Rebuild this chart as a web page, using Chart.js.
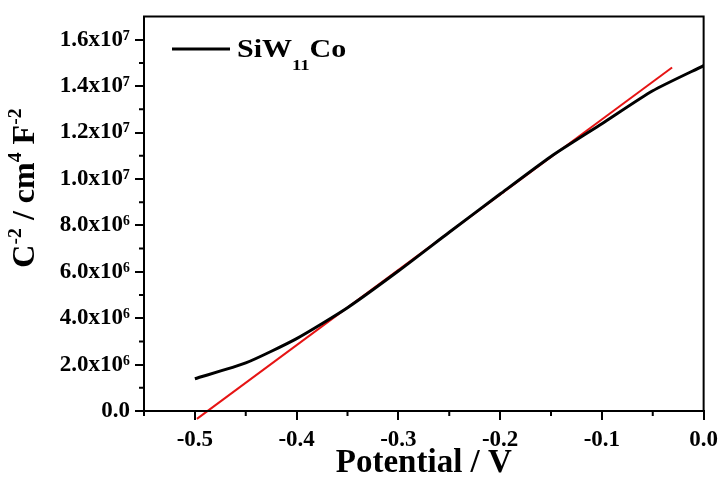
<!DOCTYPE html>
<html lang="en">

<head>
  <meta charset="UTF-8" />
  <title>Mott-Schottky SiW11Co</title>
  <script src="https://cdn.jsdelivr.net/npm/chart.js"></script>
  <style>
    body {
      margin: 0;
      background: #fff;
    }
  </style>
</head>

<body>
  <canvas id="myChart" width="724" height="477"></canvas>
  <script>
    // 資料
    const potential = [-0.5, -0.45, -0.4, -0.35, -0.3, -0.25, -0.2, -0.15, -0.1, -0.05, 0.0];
    const invCapSq = [1.39e6, 2.07e6, 3.12e6, 4.45e6, 6.03e6, 7.70e6, 9.35e6, 10.97e6, 12.38e6, 13.80e6, 14.88e6];

    // linear fit (red line)
    const fitX = [-0.498, -0.031];
    const fitY = [-0.34e6, 14.80e6];

    const xTicks = [-0.5, -0.4, -0.3, -0.2, -0.1, 0.0];
    const xTickLabels = ["-0.5", "-0.4", "-0.3", "-0.2", "-0.1", "0.0"];
    const xMinor = [-0.55, -0.45, -0.35, -0.25, -0.15, -0.05];
    const yTicks = [0, 2e6, 4e6, 6e6, 8e6, 1e7, 1.2e7, 1.4e7, 1.6e7];
    const yTickLabels = ["0.0", "2.0x10⁶", "4.0x10⁶", "6.0x10⁶", "8.0x10⁶",
      "1.0x10⁷", "1.2x10⁷", "1.4x10⁷", "1.6x10⁷"];
    const yMinor = [1e6, 3e6, 5e6, 7e6, 9e6, 1.1e7, 1.3e7, 1.5e7];

    const serif = "'Liberation Serif', 'Times New Roman', serif";

    // draw text pieces with super/subscripts
    function richText(ctx, parts, x, y, size) {
      let cx = x;
      parts.forEach((p) => {
        const s = p.sup || p.sub ? size * 0.62 : size;
        ctx.font = "bold " + s + "px " + serif;
        let dy = 0;
        if (p.sup) dy = -size * 0.42;
        if (p.sub) dy = size * 0.5;
        ctx.fillText(p.t, cx, y + dy);
        cx += ctx.measureText(p.t).width;
      });
      return cx - x;
    }
    function richWidth(ctx, parts, size) {
      let w = 0;
      parts.forEach((p) => {
        const s = p.sup || p.sub ? size * 0.62 : size;
        ctx.font = "bold " + s + "px " + serif;
        w += ctx.measureText(p.t).width;
      });
      return w;
    }

    // frame, minor ticks, y title, legend
    const extras = {
      id: "extras",
      afterDraw(chart) {
        const ctx = chart.ctx;
        const a = chart.chartArea;
        const xs = chart.scales.x;
        const ys = chart.scales.y;
        ctx.save();
        ctx.strokeStyle = "#000";
        ctx.lineWidth = 2;
        ctx.strokeRect(a.left, a.top, a.right - a.left, a.bottom - a.top);

        ctx.beginPath();
        xMinor.forEach((v) => {
          const px = xs.getPixelForValue(v);
          ctx.moveTo(px, a.bottom);
          ctx.lineTo(px, a.bottom + 5);
        });
        yMinor.forEach((v) => {
          const py = ys.getPixelForValue(v);
          ctx.moveTo(a.left - 5, py);
          ctx.lineTo(a.left, py);
        });
        ctx.stroke();

        // y axis title
        ctx.fillStyle = "#000";
        ctx.textBaseline = "alphabetic";
        ctx.textAlign = "left";
        const yTitle = [
          { t: "C" }, { t: "-2", sup: true }, { t: " / cm" }, { t: "4", sup: true },
          { t: " F" }, { t: "-2", sup: true },
        ];
        const ySize = 32;
        const w = richWidth(ctx, yTitle, ySize);
        ctx.translate(34, 188);
        ctx.rotate(-Math.PI / 2);
        richText(ctx, yTitle, -w / 2, 0, ySize);
        ctx.restore();

        // legend
        ctx.save();
        ctx.strokeStyle = "#000";
        ctx.lineWidth = 3;
        ctx.beginPath();
        ctx.moveTo(172, 49);
        ctx.lineTo(230, 49);
        ctx.stroke();
        ctx.fillStyle = "#000";
        ctx.textBaseline = "alphabetic";
        ctx.translate(237, 57);
        ctx.scale(1.2, 1);
        richText(ctx, [{ t: "SiW" }, { t: "11", sub: true }, { t: "Co" }], 0, 0, 25);
        ctx.restore();
      },
    };

    const ctx01 = document.getElementById("myChart");
    const mychart = new Chart(ctx01, {
      type: "scatter",
      data: {
        datasets: [
          {
            label: "SiW11Co",
            data: potential.map((v, i) => ({ x: v, y: invCapSq[i] })),
            showLine: true,
            borderColor: "#000",
            borderWidth: 3,
            pointRadius: 0,
            tension: 0.2,
          },
          {
            label: "fit",
            data: fitX.map((v, i) => ({ x: v, y: fitY[i] })),
            showLine: true,
            borderColor: "rgb(230, 20, 20)",
            borderWidth: 2,
            pointRadius: 0,
            clip: false,
          },
        ],
      },
      options: {
        responsive: false,
        animation: false,
        layout: {
          padding: { top: 15, right: 17, left: 0, bottom: 0 },
        },
        plugins: {
          legend: { display: false },
          tooltip: { enabled: false },
        },
        scales: {
          x: {
            type: "linear",
            min: -0.55,
            max: 0,
            afterFit: (scale) => {
              scale.height = 66;
            },
            afterBuildTicks: (scale) => {
              scale.ticks = xTicks.map((v) => ({ value: v }));
            },
            ticks: {
              color: "#000",
              padding: 6,
              maxRotation: 0,
              autoSkip: false,
              font: { family: serif, size: 23, weight: "bold" },
              callback: (v, i) => xTickLabels[i],
            },
            grid: {
              drawOnChartArea: false,
              color: "#000",
              lineWidth: 2,
              tickLength: 9,
            },
            border: { color: "#000", width: 2 },
            title: {
              display: true,
              text: "Potential / V",
              color: "#000",
              padding: 0,
              font: { family: serif, size: 33, weight: "bold", lineHeight: 0.8 },
            },
          },
          y: {
            min: 0,
            max: 1.7e7,
            afterFit: (scale) => {
              scale.width = 144;
            },
            afterBuildTicks: (scale) => {
              scale.ticks = yTicks.map((v) => ({ value: v }));
            },
            ticks: {
              color: "#000",
              padding: 5,
              autoSkip: false,
              font: { family: serif, size: 23, weight: "bold", lineHeight: 1 },
              callback: (v, i) => yTickLabels[i],
            },
            grid: {
              drawOnChartArea: false,
              color: "#000",
              lineWidth: 2,
              tickLength: 9,
            },
            border: { color: "#000", width: 2 },
          },
        },
      },
      plugins: [extras],
    });
  </script>
</body>

</html>
